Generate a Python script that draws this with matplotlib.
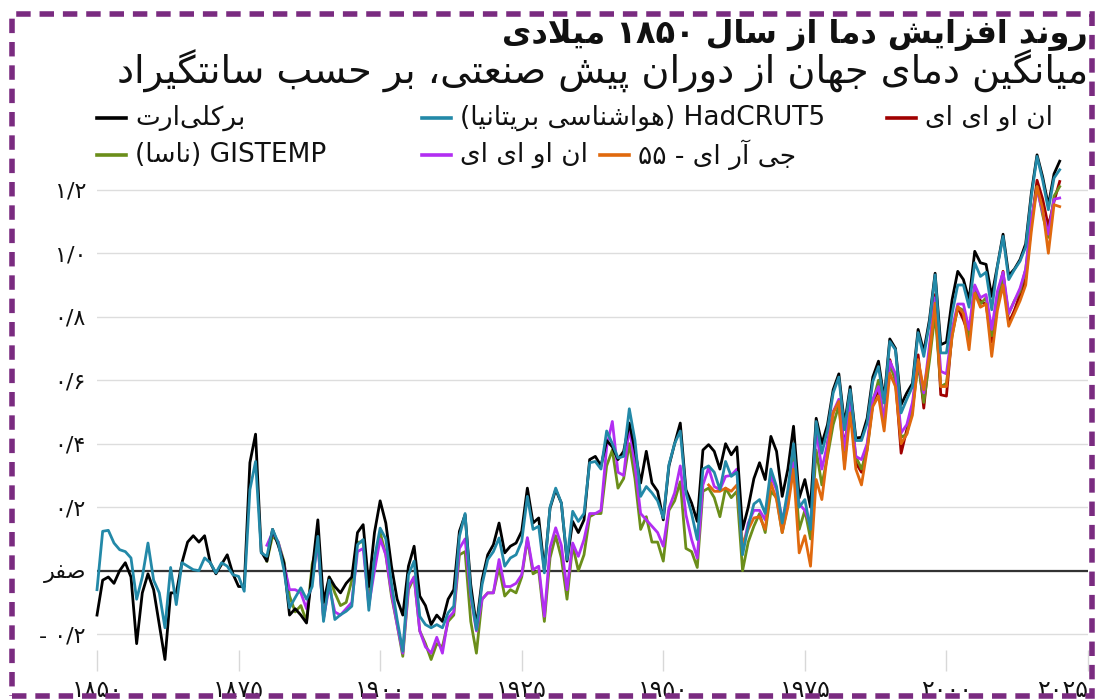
import matplotlib
matplotlib.use("Agg")
import matplotlib.pyplot as plt
from matplotlib.lines import Line2D
from matplotlib.patches import Rectangle
import numpy as np
import re

# ---------------------------------------------------------------- data
YEAR_START = 1850
YEAR_END = 2020

berkeley = [
    -0.14, -0.03, -0.02, -0.04, 0.00, 0.025, -0.02, -0.23, -0.07, -0.01,
    -0.06, -0.17, -0.28, -0.07, -0.07, 0.025, 0.09, 0.11, 0.09, 0.11,
    0.025, -0.01, 0.02, 0.05, -0.01, -0.05, -0.05, 0.34, 0.43, 0.06,
    0.03, 0.13, 0.08, 0.025, -0.14, -0.12, -0.14, -0.165, 0.0, 0.16,
    -0.10, -0.02, -0.05, -0.07, -0.04, -0.02, 0.12, 0.145, -0.05, 0.12,
    0.22, 0.15, 0.014, -0.09, -0.14, 0.014, 0.077, -0.08, -0.11, -0.17,
    -0.14, -0.16, -0.09, -0.06, 0.124, 0.176, -0.044, -0.175, -0.028, 0.05,
    0.082, 0.15, 0.056, 0.077, 0.087, 0.124, 0.26, 0.15, 0.166, 0.003,
    0.197, 0.255, 0.213, 0.03, 0.155, 0.12, 0.16, 0.35, 0.36, 0.33,
    0.41, 0.39, 0.35, 0.376, 0.465, 0.38, 0.276, 0.376, 0.276, 0.25,
    0.16, 0.33, 0.40, 0.465, 0.255, 0.213, 0.155, 0.38, 0.397, 0.376,
    0.32, 0.40, 0.365, 0.39, 0.13, 0.20, 0.29, 0.34, 0.287, 0.423,
    0.376, 0.234, 0.32, 0.455, 0.229, 0.287, 0.20, 0.48, 0.40, 0.46,
    0.57, 0.62, 0.46, 0.58, 0.418, 0.42, 0.48, 0.61, 0.66, 0.54,
    0.73, 0.70, 0.523, 0.56, 0.59, 0.76, 0.69, 0.79, 0.937, 0.712,
    0.72, 0.853, 0.943, 0.917, 0.853, 1.006, 0.97, 0.965, 0.864, 0.96,
    1.06, 0.93, 0.95, 0.98, 1.03, 1.19, 1.31, 1.24, 1.15, 1.25,
    1.29,
]

hadcrut = [
    -0.06, 0.124, 0.127, 0.087, 0.066, 0.06, 0.04, -0.09, -0.02, 0.087,
    -0.03, -0.07, -0.18, 0.01, -0.107, 0.025, 0.014, 0.003, 0.0, 0.04,
    0.025, -0.007, 0.025, 0.014, -0.013, -0.018, -0.065, 0.255, 0.344, 0.056,
    0.045, 0.13, 0.088, 0.003, -0.117, -0.085, -0.054, -0.09, -0.05, 0.108,
    -0.16, -0.03, -0.154, -0.139, -0.128, -0.112, 0.082, 0.098, -0.125, 0.04,
    0.134, 0.10, -0.04, -0.154, -0.254, -0.013, 0.03, -0.144, -0.17, -0.18,
    -0.17, -0.18, -0.133, -0.112, 0.108, 0.18, -0.07, -0.186, -0.044, 0.035,
    0.06, 0.103, 0.014, 0.04, 0.05, 0.092, 0.234, 0.13, 0.14, -0.007,
    0.20, 0.26, 0.213, 0.035, 0.187, 0.155, 0.18, 0.34, 0.344, 0.32,
    0.44, 0.40, 0.355, 0.36, 0.51, 0.41, 0.234, 0.265, 0.245, 0.22,
    0.166, 0.334, 0.40, 0.44, 0.245, 0.18, 0.098, 0.32, 0.33, 0.31,
    0.255, 0.344, 0.297, 0.31, 0.05, 0.14, 0.21, 0.224, 0.18, 0.32,
    0.265, 0.15, 0.255, 0.40, 0.20, 0.224, 0.13, 0.47, 0.37, 0.444,
    0.56, 0.61, 0.444, 0.57, 0.41, 0.41, 0.465, 0.596, 0.643, 0.528,
    0.722, 0.696, 0.497, 0.54, 0.58, 0.75, 0.675, 0.78, 0.932, 0.686,
    0.686, 0.81, 0.90, 0.90, 0.83, 0.97, 0.927, 0.94, 0.822, 0.958,
    1.053, 0.917, 0.948, 0.975, 1.02, 1.18, 1.305, 1.23, 1.137, 1.237,
    1.263,
]

# 1880-2020
gistemp = [
    0.03, 0.11, 0.09, 0.03, -0.08, -0.13, -0.11, -0.16, 0.02, 0.09,
    -0.15, -0.02, -0.07, -0.11, -0.10, -0.03, 0.09, 0.09, -0.07, 0.03,
    0.12, 0.05, -0.08, -0.17, -0.27, -0.06, -0.02, -0.19, -0.23, -0.28,
    -0.23, -0.24, -0.16, -0.14, 0.05, 0.06, -0.16, -0.26, -0.09, -0.07,
    -0.07, 0.01, -0.08, -0.06, -0.07, -0.02, 0.10, -0.01, 0.00, -0.16,
    0.04, 0.11, 0.04, -0.09, 0.08, 0.00, 0.05, 0.17, 0.18, 0.18,
    0.33, 0.38, 0.26, 0.29, 0.40, 0.29, 0.13, 0.17, 0.09, 0.09,
    0.03, 0.19, 0.22, 0.28, 0.07, 0.06, 0.01, 0.25, 0.26, 0.23,
    0.17, 0.26, 0.23, 0.25, 0.00, 0.09, 0.14, 0.18, 0.12, 0.25,
    0.23, 0.12, 0.21, 0.36, 0.13, 0.19, 0.10, 0.38, 0.27, 0.36,
    0.46, 0.52, 0.34, 0.51, 0.36, 0.32, 0.38, 0.53, 0.60, 0.47,
    0.65, 0.60, 0.42, 0.43, 0.51, 0.65, 0.53, 0.66, 0.81, 0.58,
    0.59, 0.74, 0.83, 0.82, 0.73, 0.88, 0.84, 0.86, 0.74, 0.85,
    0.92, 0.81, 0.85, 0.88, 0.95, 1.10, 1.21, 1.12, 1.05, 1.18,
    1.21,
]

# 1880-2020
noaa = [
    0.08, 0.12, 0.09, 0.02, -0.06, -0.06, -0.07, -0.12, -0.03, 0.09,
    -0.15, -0.05, -0.13, -0.14, -0.12, -0.10, 0.06, 0.07, -0.11, 0.00,
    0.10, 0.05, -0.07, -0.17, -0.26, -0.05, -0.02, -0.19, -0.24, -0.26,
    -0.21, -0.26, -0.15, -0.13, 0.07, 0.10, -0.08, -0.19, -0.09, -0.07,
    -0.07, 0.035, -0.05, -0.05, -0.04, -0.013, 0.104, 0.003, 0.014, -0.144,
    0.072, 0.135, 0.08, -0.06, 0.087, 0.045, 0.098, 0.18, 0.18, 0.19,
    0.39, 0.47, 0.31, 0.30, 0.455, 0.33, 0.18, 0.16, 0.14, 0.12,
    0.077, 0.197, 0.245, 0.33, 0.176, 0.098, 0.04, 0.27, 0.324, 0.265,
    0.255, 0.297, 0.30, 0.32, 0.066, 0.15, 0.19, 0.19, 0.16, 0.297,
    0.255, 0.16, 0.224, 0.34, 0.21, 0.19, 0.145, 0.444, 0.32, 0.40,
    0.50, 0.54, 0.38, 0.53, 0.36, 0.35, 0.40, 0.54, 0.58, 0.47,
    0.66, 0.62, 0.434, 0.46, 0.53, 0.66, 0.56, 0.71, 0.86, 0.628,
    0.62, 0.76, 0.84, 0.84, 0.76, 0.90, 0.86, 0.87, 0.76, 0.88,
    0.94, 0.81, 0.85, 0.89, 0.95, 1.11, 1.20, 1.13, 1.06, 1.17,
    1.174,
]

# 1958-2020
jra55 = [
    0.27, 0.25,
    0.25, 0.26, 0.25, 0.27, 0.08, 0.13, 0.166, 0.17, 0.13, 0.276,
    0.224, 0.12, 0.20, 0.32, 0.056, 0.11, 0.014, 0.287, 0.224, 0.37,
    0.497, 0.533, 0.32, 0.497, 0.32, 0.27, 0.38, 0.517, 0.55, 0.44,
    0.622, 0.58, 0.40, 0.43, 0.49, 0.665, 0.57, 0.68, 0.843, 0.58,
    0.58, 0.738, 0.832, 0.81, 0.696, 0.874, 0.83, 0.84, 0.675, 0.82,
    0.90, 0.77, 0.81, 0.85, 0.90, 1.07, 1.21, 1.14, 1.00, 1.153,
    1.147,
]

# 1979-2020
noaa_red = [
    0.40,
    0.50, 0.53, 0.39, 0.52, 0.34, 0.31, 0.39, 0.53, 0.57, 0.46,
    0.665, 0.60, 0.37, 0.444, 0.51, 0.68, 0.512, 0.69, 0.87, 0.554,
    0.55, 0.75, 0.83, 0.79, 0.74, 0.895, 0.85, 0.838, 0.72, 0.86,
    0.943, 0.78, 0.82, 0.87, 0.92, 1.09, 1.23, 1.17, 1.085, 1.163,
    1.226,
]

X_TICKS = [1850, 1875, 1900, 1925, 1950, 1975, 2000, 2025]
X_TICK_LABELS = ["۱۸۵۰", "۱۸۷۵", "۱۹۰۰", "۱۹۲۵", "۱۹۵۰", "۱۹۷۵", "۲۰۰۰", "۲۰۲۵"]
Y_TICKS = [-0.2, 0.0, 0.2, 0.4, 0.6, 0.8, 1.0, 1.2]
Y_TICK_LABELS = ["- ۰/۲", "صفر", "۰/۲", "۰/۴", "۰/۶", "۰/۸", "۱/۰", "۱/۲"]

TITLE = "روند افزایش دما از سال ۱۸۵۰ میلادی"
SUBTITLE = "میانگین دمای جهان از دوران پیش صنعتی، بر حسب سانتگیراد"

# ---------------------------------------------------------------- persian shaping
# isolated, final, initial, medial
FORMS = {
    "ا": ("\uFE8D", "\uFE8E", None, None),
    "آ": ("\uFE81", "\uFE82", None, None),
    "ب": ("\uFE8F", "\uFE90", "\uFE91", "\uFE92"),
    "پ": ("\uFB56", "\uFB57", "\uFB58", "\uFB59"),
    "ت": ("\uFE95", "\uFE96", "\uFE97", "\uFE98"),
    "ث": ("\uFE99", "\uFE9A", "\uFE9B", "\uFE9C"),
    "ج": ("\uFE9D", "\uFE9E", "\uFE9F", "\uFEA0"),
    "چ": ("\uFB7A", "\uFB7B", "\uFB7C", "\uFB7D"),
    "ح": ("\uFEA1", "\uFEA2", "\uFEA3", "\uFEA4"),
    "خ": ("\uFEA5", "\uFEA6", "\uFEA7", "\uFEA8"),
    "د": ("\uFEA9", "\uFEAA", None, None),
    "ذ": ("\uFEAB", "\uFEAC", None, None),
    "ر": ("\uFEAD", "\uFEAE", None, None),
    "ز": ("\uFEAF", "\uFEB0", None, None),
    "ژ": ("\uFB8A", "\uFB8B", None, None),
    "س": ("\uFEB1", "\uFEB2", "\uFEB3", "\uFEB4"),
    "ش": ("\uFEB5", "\uFEB6", "\uFEB7", "\uFEB8"),
    "ص": ("\uFEB9", "\uFEBA", "\uFEBB", "\uFEBC"),
    "ض": ("\uFEBD", "\uFEBE", "\uFEBF", "\uFEC0"),
    "ط": ("\uFEC1", "\uFEC2", "\uFEC3", "\uFEC4"),
    "ظ": ("\uFEC5", "\uFEC6", "\uFEC7", "\uFEC8"),
    "ع": ("\uFEC9", "\uFECA", "\uFECB", "\uFECC"),
    "غ": ("\uFECD", "\uFECE", "\uFECF", "\uFED0"),
    "ف": ("\uFED1", "\uFED2", "\uFED3", "\uFED4"),
    "ق": ("\uFED5", "\uFED6", "\uFED7", "\uFED8"),
    "ک": ("\uFB8E", "\uFB8F", "\uFB90", "\uFB91"),
    "گ": ("\uFB92", "\uFB93", "\uFB94", "\uFB95"),
    "ل": ("\uFEDD", "\uFEDE", "\uFEDF", "\uFEE0"),
    "م": ("\uFEE1", "\uFEE2", "\uFEE3", "\uFEE4"),
    "ن": ("\uFEE5", "\uFEE6", "\uFEE7", "\uFEE8"),
    "ه": ("\uFEE9", "\uFEEA", "\uFEEB", "\uFEEC"),
    "و": ("\uFEED", "\uFEEE", None, None),
    "ی": ("\uFBFC", "\uFBFD", "\uFBFE", "\uFBFF"),
}
LAM_ALEF = {"ا": ("\uFEFB", "\uFEFC"), "آ": ("\uFEF5", "\uFEF6")}


def shape(s):
    out = []
    i = 0
    n = len(s)
    while i < n:
        ch = s[i]
        if ch not in FORMS:
            if ch != "\u200c":
                out.append(ch)
            i += 1
            continue
        prev = s[i - 1] if i > 0 else ""
        joins_prev = prev in FORMS and FORMS[prev][2] is not None
        if ch == "ل" and i + 1 < n and s[i + 1] in LAM_ALEF:
            out.append(LAM_ALEF[s[i + 1]][1 if joins_prev else 0])
            i += 2
            continue
        nxt = s[i + 1] if i + 1 < n else ""
        joins_next = FORMS[ch][2] is not None and nxt in FORMS
        iso, fin, ini, med = FORMS[ch]
        if joins_prev and joins_next:
            out.append(med)
        elif joins_prev:
            out.append(fin)
        elif joins_next:
            out.append(ini)
        else:
            out.append(iso)
        i += 1
    return "".join(out)


def fa(s):
    """shape persian text and put it in visual (left to right) order"""
    shaped = shape(s)
    tokens = re.findall(r"[A-Za-z0-9\u06F0-\u06F9]+|.", shaped)
    mirror = {"(": ")", ")": "("}
    return "".join(mirror.get(t, t) for t in reversed(tokens))


# ---------------------------------------------------------------- plot
plt.rcParams["font.family"] = ["DejaVu Sans"]

years = np.arange(YEAR_START, YEAR_END + 1)
yrs_1880 = np.arange(1880, YEAR_END + 1)
yrs_1958 = np.arange(1958, YEAR_END + 1)
yrs_1979 = np.arange(1979, YEAR_END + 1)

C_BERK = "#000000"
C_HAD = "#2389a8"
C_RED = "#a00000"
C_GISS = "#6b8e1a"
C_NOAA = "#b22ef2"
C_JRA = "#e0690e"

fig = plt.figure(figsize=(11, 7), dpi=100)
fig.patch.set_facecolor("white")
ax = fig.add_axes([97 / 1100, 1 - 650 / 700, 991 / 1100, 501.5 / 700])

LW = 2.0
series = [
    (yrs_1979, noaa_red, C_RED),
    (yrs_1880, gistemp, C_GISS),
    (yrs_1880, noaa, C_NOAA),
    (yrs_1958, jra55, C_JRA),
    (years, berkeley, C_BERK),
    (years, hadcrut, C_HAD),
]
for xs, ys, col in series:
    ax.plot(xs, ys, color=col, lw=LW, zorder=3, clip_on=False)

ax.axhline(0, color="#333333", lw=1.6, zorder=2)

ax.set_xlim(1850, 2025)
ax.set_ylim(-0.25, 1.33)
ax.set_yticks(Y_TICKS)
ax.set_yticklabels([Y_TICK_LABELS[0]] + [fa(Y_TICK_LABELS[1])] + Y_TICK_LABELS[2:],
                   fontsize=16, color="#111111")
ax.set_xticks(X_TICKS)
ax.set_xticklabels(X_TICK_LABELS, fontsize=17, color="#111111")
ax.get_xticklabels()[-1].set_horizontalalignment("right")
ax.tick_params(axis="y", length=0, pad=8)
ax.tick_params(axis="x", length=15, width=1, color="#d8d8d8", pad=5)
ax.grid(axis="y", color="#dddddd", lw=1)
ax.set_axisbelow(True)
for sp in ax.spines.values():
    sp.set_visible(False)

# titles
fig.text(1088 / 1100, 1 - 35 / 700, fa(TITLE), ha="right", va="center",
         fontsize=23, fontweight="bold", color="#111111")
fig.text(1088 / 1100, 1 - 71 / 700, fa(SUBTITLE), ha="right", va="center",
         fontsize=27.5, color="#111111")

# legend, built by hand (two rows)
legend_rows = [
    (118, [(97, C_BERK, "برکلی\u200cارت"),
           (422, C_HAD, "HadCRUT5 (هواشناسی بریتانیا)"),
           (887, C_RED, "ان او ای ای")]),
    (155, [(97, C_GISS, "GISTEMP (ناسا)"),
           (422, C_NOAA, "ان او ای ای"),
           (600, C_JRA, "جی آر ای - ۵۵")]),
]
for ypix, items in legend_rows:
    yf = 1 - ypix / 700
    for xpix, col, label in items:
        fig.add_artist(Line2D([xpix / 1100, (xpix + 29) / 1100], [yf, yf],
                              transform=fig.transFigure, color=col, lw=2.6))
        fig.text((xpix + 38) / 1100, yf, fa(label), ha="left", va="center",
                 fontsize=19, color="#111111")

# dashed purple frame
fig.add_artist(Rectangle((12 / 1100, 1 - 696 / 700), 1080 / 1100, 682 / 700,
                         transform=fig.transFigure, fill=False,
                         edgecolor="#7a2b80", lw=4, linestyle=(0, (2.6, 1.6)),
                         zorder=10))

fig.savefig("out.png", dpi=100, facecolor="white")
